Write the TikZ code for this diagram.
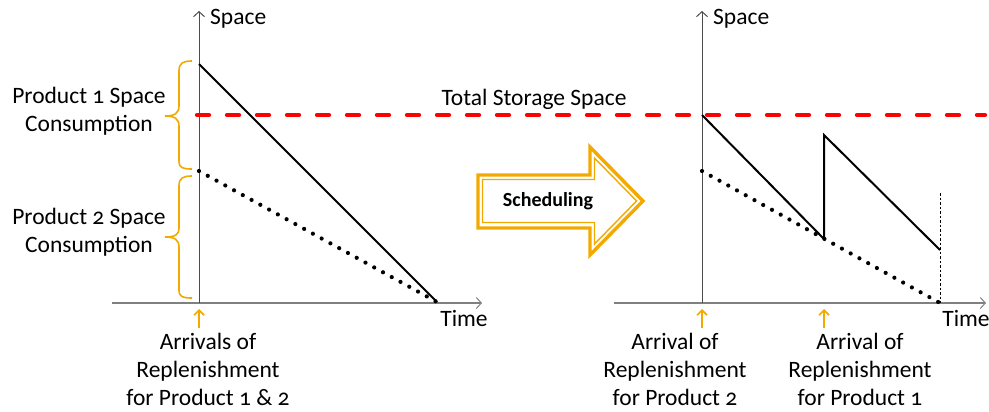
\documentclass[tikz,border=0pt]{standalone}
\usepackage{fontspec}
\setmainfont{Carlito}[Numbers=OldStyle]
\usetikzlibrary{arrows.meta}
\definecolor{braceorange}{RGB}{242,170,0}
\definecolor{limitred}{RGB}{255,0,0}
\definecolor{axisgray}{RGB}{128,128,128}
\tikzset{
  lbl/.style={font=\fontsize{23.5}{28}\selectfont, align=center, inner sep=0pt},
  axisline/.style={axisgray, line width=1.1pt, -{Straight Barb[length=5pt,width=11pt,line width=1pt]}},
  yaxisline/.style={black!70, line width=1pt, -{Straight Barb[length=5pt,width=11pt,line width=1pt]}},
  usage/.style={black, line width=2pt},
  usage2/.style={black, line width=4.2pt, line cap=round, dash pattern=on 0pt off 10pt},
  limit/.style={limitred, line width=4.3pt, line cap=round, dash pattern=on 12pt off 18pt},
  bracepath/.style={braceorange, line width=1.6pt},
  arrivalarrow/.style={braceorange, line width=1.6pt, -{Straight Barb[length=5pt,width=10pt,line width=1.6pt]}},
}
\begin{document}
\begin{tikzpicture}[x=1pt, y=-1pt]
\useasboundingbox (0,0) rectangle (989,412);

% ---------- left chart: both products arrive together ----------
\coordinate (lxs) at (112,303);
\coordinate (lxe) at (482,303);
\coordinate (lo) at (199,303);
\coordinate (lyt) at (199,11);
\draw[axisline] (lxs) -- (lxe);
\draw[yaxisline] (lo) -- (lyt);
\node[lbl, anchor=west] (lspace) at (210,19) {Space};
\node[lbl] (ltime) at (464,318) {Time};

\coordinate (p1top) at (199,64);
\coordinate (p2top) at (199,171);
\coordinate (lend) at (437,302);
\draw[usage] (p1top) -- (lend);
\draw[usage2] (p2top) -- (lend);

% total storage limit
\coordinate (lims) at (197,115);
\coordinate (lime) at (985,115);
\draw[limit] (lims) -- (lime);
\node[lbl] (total) at (534,99) {Total Storage Space};

% braces
\draw[bracepath] (192,61) .. controls (183,61) and (179,63) .. (179,71) -- (179,106)
  .. controls (179,113) and (175,116) .. (165,116)
  .. controls (175,116) and (179,119) .. (179,126) -- (179,161)
  .. controls (179,168) and (183,169) .. (192,169);
\draw[bracepath] (192,176) .. controls (183,176) and (179,178) .. (179,186) -- (179,228)
  .. controls (179,235) and (175,237) .. (165,237)
  .. controls (175,237) and (179,240) .. (179,247) -- (179,290)
  .. controls (179,297) and (183,298) .. (192,298);
\node[lbl] (p1lbl) at (89,111) {Product 1 Space\\Consumption};
\node[lbl] (p2lbl) at (89,232) {Product 2 Space\\Consumption};

% arrivals
\coordinate (la0) at (199,328);
\coordinate (la1) at (199,309);
\draw[arrivalarrow] (la0) -- (la1);
\node[lbl] (larr) at (208,369) {Arrivals of\\Replenishment\\for Product 1 \& 2};

% ---------- scheduling arrow ----------
\draw[braceorange, line width=3.4pt, fill=white, line join=miter]
  (478,175) -- (590,175) -- (590,147) -- (643,201) -- (590,255) -- (590,228) -- (478,228) -- cycle;
\draw[braceorange, line width=1.4pt, line join=miter]
  (482.5,179.5) -- (594.5,179.5) -- (594.5,158) -- (636.6,201) -- (594.5,244) -- (594.5,222.5) -- (482.5,222.5) -- cycle;
\node[font=\fontsize{20}{24}\selectfont\bfseries, inner sep=0pt] (sched) at (548,201) {Scheduling};

% ---------- right chart: staggered arrivals ----------
\coordinate (rxs) at (614,303);
\coordinate (rxe) at (986,303);
\coordinate (ro) at (702,303);
\coordinate (ryt) at (702,11);
\draw[axisline] (rxs) -- (rxe);
\draw[yaxisline] (ro) -- (ryt);
\node[lbl, anchor=west] (rspace) at (713,19) {Space};
\node[lbl] (rtime) at (966,318) {Time};

\coordinate (r1a) at (702,115);
\coordinate (r1b) at (824,239);
\coordinate (r1c) at (824,135);
\coordinate (r1d) at (940,250);
\draw[usage, line join=miter] (r1a) -- (r1b) -- (r1c) -- (r1d);
\coordinate (r2a) at (702,171);
\coordinate (r2b) at (940,303);
\draw[usage2] (r2a) -- (r2b);
\coordinate (rvt) at (940,193);
\draw[black, line width=0.7pt, dash pattern=on 2.5pt off 2pt] (rvt) -- (r2b);

\coordinate (ra0) at (702,328);
\coordinate (ra1) at (702,309);
\draw[arrivalarrow] (ra0) -- (ra1);
\coordinate (rb0) at (824,328);
\coordinate (rb1) at (824,309);
\draw[arrivalarrow] (rb0) -- (rb1);
\node[lbl] (rarr2) at (675,369) {Arrival of\\Replenishment\\for Product 2};
\node[lbl] (rarr1) at (860,369) {Arrival of\\Replenishment\\for Product 1};
\end{tikzpicture}
\end{document}
